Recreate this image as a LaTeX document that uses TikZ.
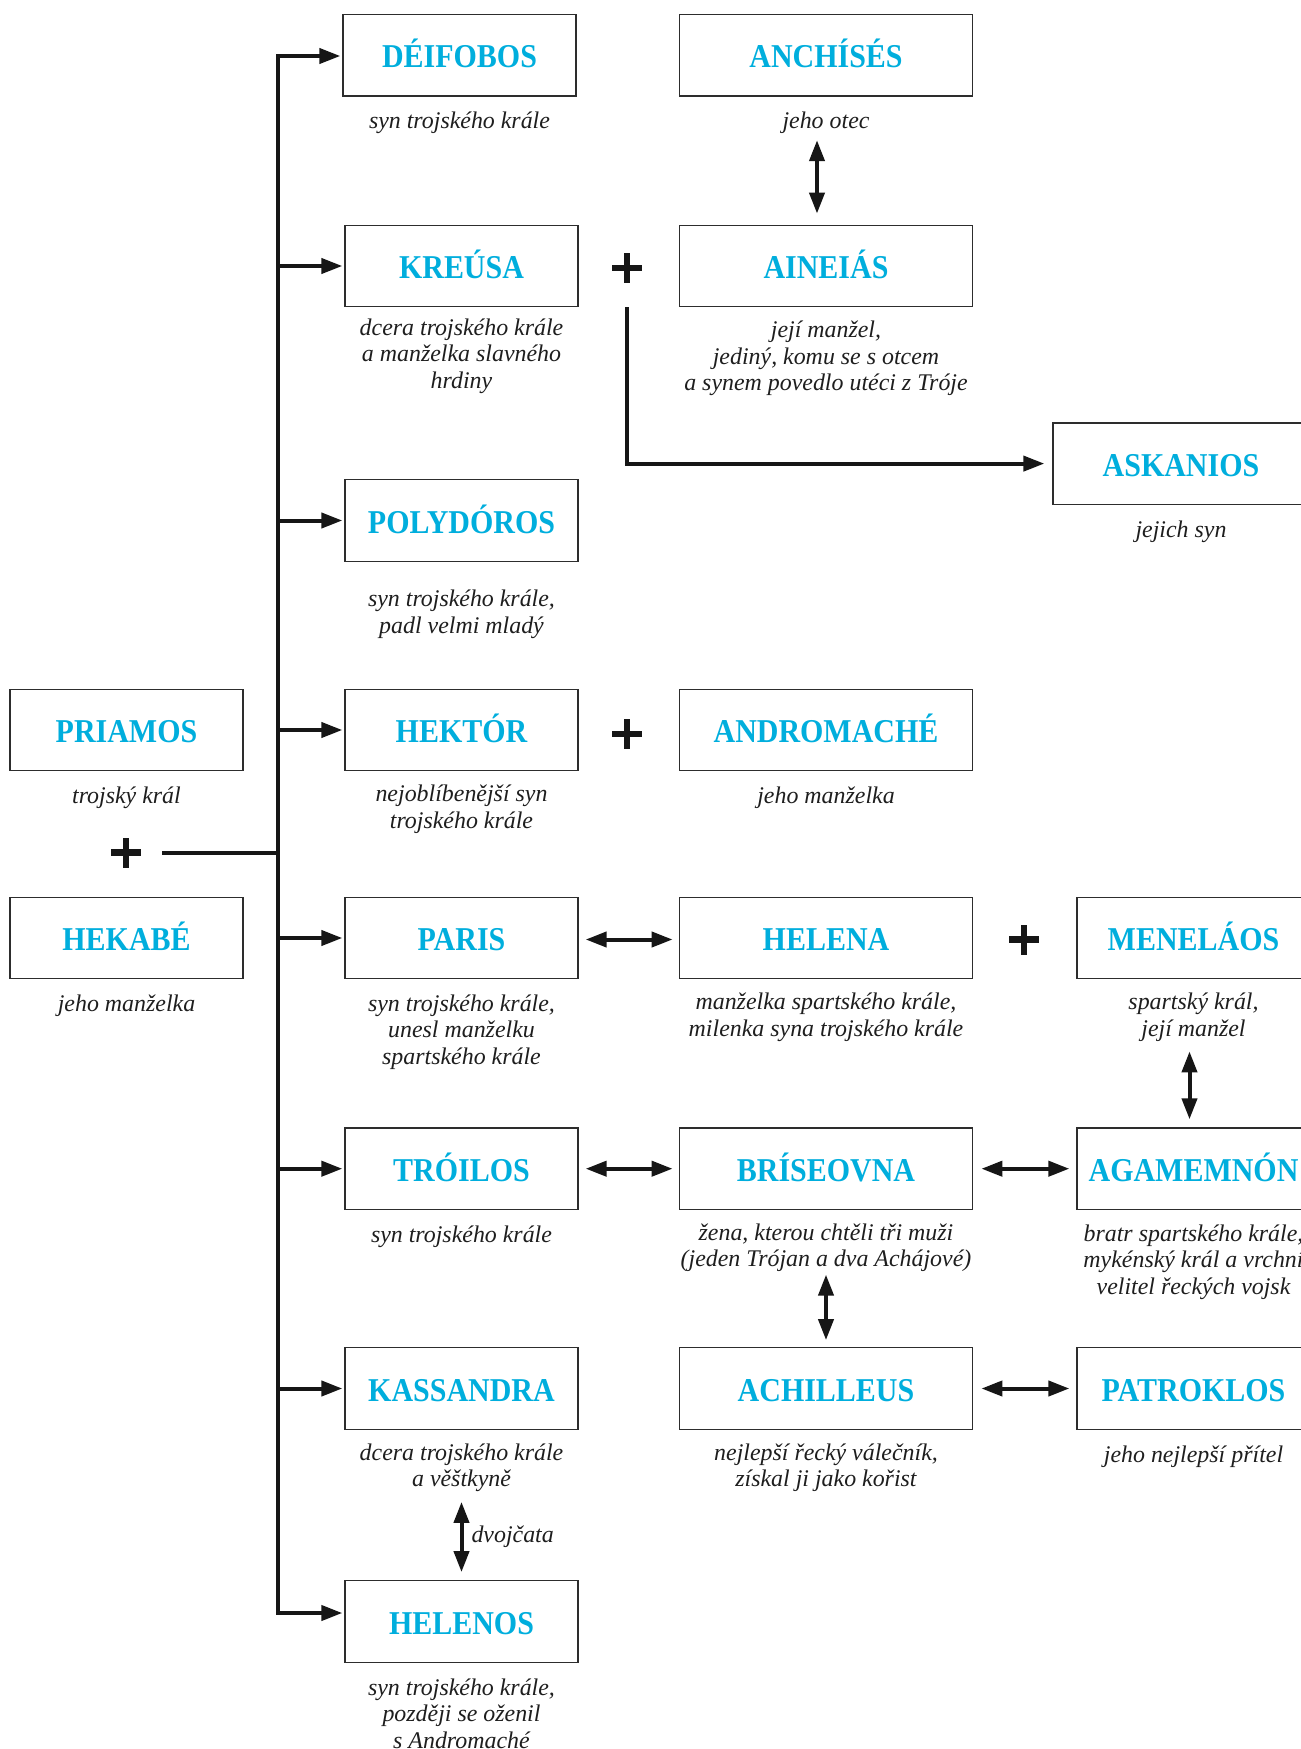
\documentclass[tikz,border=0pt]{standalone}
\usepackage{fontspec}
\setmainfont{Liberation Serif}
\newfontfamily\titlefont{Liberation Serif}[FakeStretch=0.9]
\usetikzlibrary{arrows.meta,calc}
\definecolor{titlecyan}{RGB}{0,174,221}
\definecolor{boxgray}{RGB}{45,45,45}
\definecolor{ink}{RGB}{22,22,22}
\definecolor{desctext}{RGB}{30,30,30}
\begin{document}
\begin{tikzpicture}[x=1pt,y=-1pt,
  namebox/.style={draw=boxgray, line width=1.3pt, minimum width=233pt, minimum height=81.5pt, inner sep=0pt, text height=25.2pt, text depth=0pt, text=titlecyan, font=\titlefont\bfseries\fontsize{33.3}{38}\selectfont},
  widebox/.style={namebox, minimum width=293.5pt},
  desc/.style={anchor=north, inner sep=0pt, align=center, text=desctext, font=\itshape\fontsize{23.9}{26.5}\selectfont, execute at begin node=\strut},
  conn/.style={draw=ink, line width=4pt},
  arr/.style={conn, -{Triangle[length=21pt,width=15pt]}, shorten >=2pt},
  dbl/.style={conn, {Triangle[length=21pt,width=15pt]}-{Triangle[length=21pt,width=15pt]}},
  plusnode/.style={minimum size=30pt, inner sep=0pt, path picture={
      \fill[ink] ([xshift=-3.3pt]path picture bounding box.north) rectangle ([xshift=3.3pt]path picture bounding box.south);
      \fill[ink] ([yshift=3.3pt]path picture bounding box.west) rectangle ([yshift=-3.3pt]path picture bounding box.east);}}
]
\useasboundingbox (0,0) rectangle (1301,1749);
\fill[white] (0,0) rectangle (1301,1749);
\clip (0,0) rectangle (1301,1749);

% boxes
\node[namebox] (deif) at (459.5,55.3) {DÉIFOBOS};
\node[widebox] (anch) at (826,55.3) {ANCHÍSÉS};
\node[namebox] (kre) at (461.5,266) {KREÚSA};
\node[widebox] (ain) at (826,266) {AINEIÁS};
\node[namebox, minimum width=256pt] (ask) at (1181,463.6) {ASKANIOS};
\node[namebox] (pol) at (461.5,520.5) {POLYDÓROS};
\node[namebox] (pri) at (126.5,730) {PRIAMOS};
\node[namebox] (hek) at (461.5,730) {HEKTÓR};
\node[widebox] (and) at (826,730) {ANDROMACHÉ};
\node[namebox] (heka) at (126.5,938) {HEKABÉ};
\node[namebox] (par) at (461.5,938) {PARIS};
\node[widebox] (hele) at (826,938) {HELENA};
\node[namebox] (men) at (1193.5,938) {MENELÁOS};
\node[namebox] (tro) at (461.5,1168.7) {TRÓILOS};
\node[widebox] (bri) at (826,1168.7) {BRÍSEOVNA};
\node[namebox] (aga) at (1193.5,1168.7) {AGAMEMNÓN};
\node[namebox] (kas) at (461.5,1388.5) {KASSANDRA};
\node[widebox] (ach) at (826,1388.5) {ACHILLEUS};
\node[namebox] (pat) at (1193.5,1388.5) {PATROKLOS};
\node[namebox] (hel) at (461.5,1621.5) {HELENOS};

% descriptions
\node[desc] (deifd) at ($(deif.south)+(0,13.5)$) {syn trojského krále};
\node[desc] (anchd) at ($(anch.south)+(0,13.5)$) {jeho otec};
\node[desc] (kred) at ($(kre.south)+(0,10.8)$) {dcera trojského krále\\a manželka slavného\\hrdiny};
\node[desc] (aind) at ($(ain.south)+(0,13.5)$) {její manžel,\\jediný, komu se s otcem\\a synem povedlo utéci z Tróje};
\node[desc] (askd) at ($(ask.south)+(0,13.5)$) {jejich syn};
\node[desc] (pold) at ($(pol.south)+(0,27.8)$) {syn trojského krále,\\padl velmi mladý};
\node[desc] (prid) at ($(pri.south)+(0,13.5)$) {trojský král};
\node[desc] (hekd) at ($(hek.south)+(0,13.5)$) {nejoblíbenější syn\\trojského krále};
\node[desc] (andd) at ($(and.south)+(0,13.5)$) {jeho manželka};
\node[desc] (hekad) at ($(heka.south)+(0,13.5)$) {jeho manželka};
\node[desc] (pard) at ($(par.south)+(0,14.8)$) {syn trojského krále,\\unesl manželku\\spartského krále};
\node[desc] (heled) at ($(hele.south)+(0,13.5)$) {manželka spartského krále,\\milenka syna trojského krále};
\node[desc] (mend) at ($(men.south)+(0,13.5)$) {spartský král,\\její manžel};
\node[desc] (trod) at ($(tro.south)+(0,13.5)$) {syn trojského krále};
\node[desc] (brid) at ($(bri.south)+(0,13.5)$) {žena, kterou chtěli tři muži\\(jeden Trójan a dva Achájové)};
\node[desc] (agad) at ($(aga.south)+(0,14.3)$) {bratr spartského krále,\\mykénský král a vrchní\\velitel řeckých vojsk};
\node[desc] (kasd) at ($(kas.south)+(0,13.5)$) {dcera trojského krále\\a věštkyně};
\node[desc] (achd) at ($(ach.south)+(0,13.5)$) {nejlepší řecký válečník,\\získal ji jako kořist};
\node[desc] (patd) at ($(pat.south)+(0,13.5)$) {jeho nejlepší přítel};
\node[desc] (held) at ($(hel.south)+(0,15.3)$) {syn trojského krále,\\později se oženil\\s Andromaché};

% plus signs
\node[plusnode] (p0) at (126,852.5) {};
\node[plusnode] (p1) at (627,268) {};
\node[plusnode] (p2) at (627,734) {};
\node[plusnode] (p3) at (1024,939.5) {};

% family trunk
\coordinate (ttop) at (278,56);
\coordinate (tbot) at (278,1613);
\draw[conn] ([xshift=21pt]p0.east) -- (ttop |- p0);
\draw[arr] (tbot) -- (ttop) -- (ttop -| deif.west);
\draw[arr] (ttop) -- (tbot) -- (tbot -| hel.west);
\foreach \n in {kre,pol,hek,par,tro,kas}{
  \draw[arr] (ttop |- \n.west) -- (\n.west);
}

% Kreusa + Aineias -> Askanios
\draw[arr, shorten >=8pt] ($(p1.south)+(0,24)$) -- (p1 |- ask.west) -- (ask.west);

% double arrows
\draw[dbl] ($(anch.south)+(-9,43.5)$) -- ($(ain.north)+(-9,-11)$);
\draw[dbl] ($(par.east)+(7,1.5)$) -- ($(hele.west)+(-6,1.5)$);
\draw[dbl] ($(men.south)+(-4,72)$) -- ($(aga.north)+(-4,-8)$);
\draw[dbl] ($(tro.east)+(7,0)$) -- ($(bri.west)+(-6,0)$);
\draw[dbl] ($(bri.east)+(8,0)$) -- ($(aga.west)+(-7,0)$);
\draw[dbl] ($(bri.south)+(0,64.5)$) -- ($(ach.north)+(0,-7)$);
\draw[dbl] ($(ach.east)+(8,0)$) -- ($(pat.west)+(-7,0)$);
\draw[dbl] ($(kas.south)+(0,72)$) -- ($(hel.north)+(0,-8)$)
  node[midway, anchor=west, xshift=8pt, inner sep=0pt, text=desctext, font=\itshape\fontsize{23.9}{26.5}\selectfont] (twins) {dvojčata};
\end{tikzpicture}
\end{document}
